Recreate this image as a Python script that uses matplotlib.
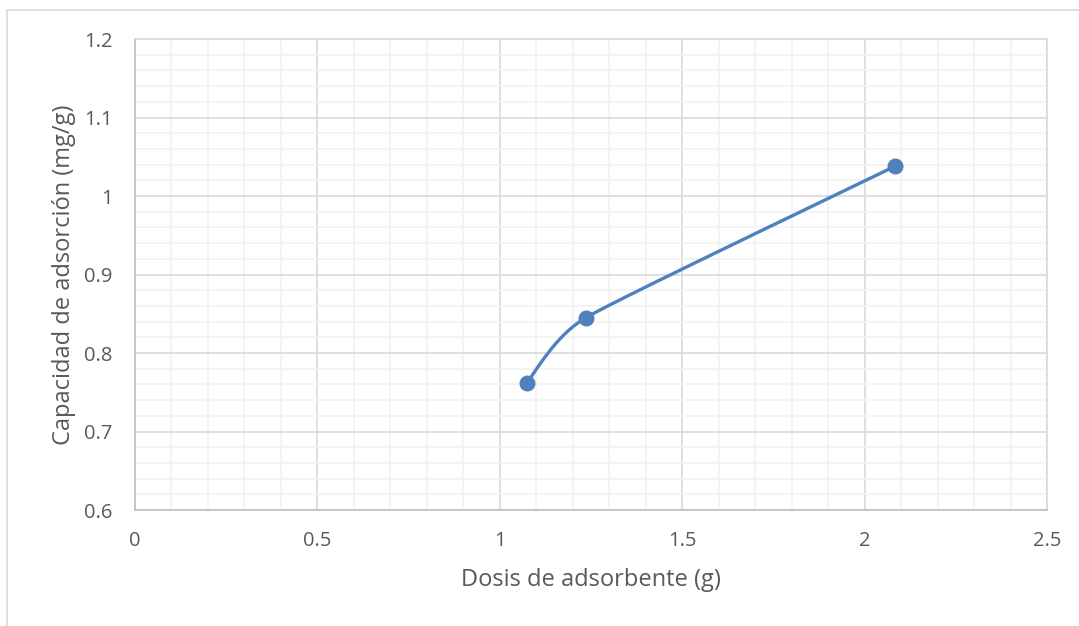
import numpy as np
import matplotlib
matplotlib.use("Agg")
import matplotlib.pyplot as plt
from matplotlib.lines import Line2D

# datos
dosis = [1.075, 1.236, 2.084]
capacidad = [0.762, 0.845, 1.038]

x_ticks = [0, 0.5, 1, 1.5, 2, 2.5]
y_ticks = [0.6, 0.7, 0.8, 0.9, 1.0, 1.1, 1.2]
x_tick_labels = ["0", "0.5", "1", "1.5", "2", "2.5"]
y_tick_labels = ["0.6", "0.7", "0.8", "0.9", "1", "1.1", "1.2"]

azul = "#4F81BD"
gris_texto = "#595959"

plt.rcParams["font.family"] = ["Open Sans", "DejaVu Sans"]

fig = plt.figure(figsize=(10.79, 6.26), dpi=100)
ax = fig.add_axes([135/1079, 1-510/626, (1047-135)/1079, (510-39)/626])

ax.set_xlim(0, 2.5)
ax.set_ylim(0.6, 1.2)
ax.set_xticks(x_ticks)
ax.set_xticklabels(x_tick_labels)
ax.set_yticks(y_ticks)
ax.set_yticklabels(y_tick_labels)
ax.set_xticks(np.arange(0, 2.5001, 0.1), minor=True)
ax.set_yticks(np.arange(0.6, 1.2001, 0.02), minor=True)

ax.grid(which="minor", color="#F2F2F2", linewidth=1.2, zorder=0)
ax.grid(which="major", color="#D9D9D9", linewidth=1.2, zorder=0)
ax.tick_params(which="both", length=0)
ax.tick_params(axis="both", labelsize=14.5, colors=gris_texto)
ax.tick_params(axis="y", pad=16)
ax.tick_params(axis="x", pad=15)
for s in ax.spines.values():
    s.set_color("#D9D9D9")
    s.set_linewidth(1.2)
ax.spines["left"].set_color("#BFBFBF")
ax.spines["bottom"].set_color("#BFBFBF")

ax.set_xlabel("Dosis de adsorbente (g)", fontsize=17, color=gris_texto, labelpad=12)
ax.set_ylabel("Capacidad de adsorción (mg/g)", fontsize=17, color=gris_texto, labelpad=6)

# curva suavizada tipo Excel (bezier) calculada en coordenadas de pantalla
pts = ax.transData.transform(np.column_stack([dosis, capacidad]))
n = len(pts)
# brazos de control en los puntos interiores, limitados por el largo del tramo
brazo = {}
for i in range(1, n - 1):
    tang = (pts[i+1] - pts[i-1]) / 6
    lim = min(np.linalg.norm(pts[i] - pts[i-1]), np.linalg.norm(pts[i+1] - pts[i])) / 3
    largo = np.linalg.norm(tang)
    if largo > lim:
        tang = tang * lim / largo
    brazo[i] = tang
curva = []
for i in range(n - 1):
    p1, p2 = pts[i], pts[i+1]
    c1 = p1 + brazo[i] if i in brazo else None
    c2 = p2 - brazo[i+1] if (i+1) in brazo else None
    if c1 is None and c2 is None:
        c1 = p1 + (p2 - p1) / 3
        c2 = p2 - (p2 - p1) / 3
    elif c1 is None:
        c1 = (p1 + c2) / 2
    elif c2 is None:
        c2 = (p2 + c1) / 2
    t = np.linspace(0, 1, 80)[:, None]
    seg = (1-t)**3*p1 + 3*(1-t)**2*t*c1 + 3*(1-t)*t**2*c2 + t**3*p2
    curva.append(seg)
curva = ax.transData.inverted().transform(np.vstack(curva))
ax.plot(curva[:, 0], curva[:, 1], color=azul, linewidth=2.4, zorder=3,
        solid_capstyle="round")
ax.plot(dosis, capacidad, "o", color=azul, markersize=10.5, zorder=4)

# borde del area del grafico
fig.add_artist(Line2D([7/1079, 7/1079], [0, 1-10/626], color="#D9D9D9", linewidth=1.2))
fig.add_artist(Line2D([7/1079, 1], [1-10/626, 1-10/626], color="#D9D9D9", linewidth=1.2))

fig.savefig("out.png", dpi=100)
